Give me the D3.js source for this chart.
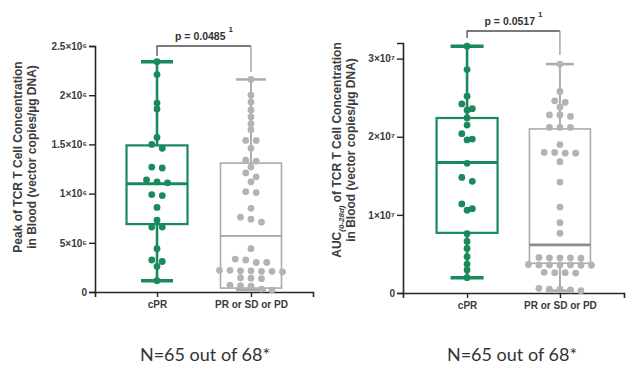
<!DOCTYPE html>
<html>
<head>
<meta charset="utf-8">
<script src="https://cdn.jsdelivr.net/npm/d3@7/dist/d3.min.js"></script>
<style>
  html, body { margin: 0; padding: 0; background: #fff; }
  svg { display: block; }
  .tick text { font-family: "Liberation Sans", Arial, sans-serif; font-weight: bold; }
</style>
</head>
<body>
<svg id="chart" width="628" height="368"></svg>
<script>
// Response groups
const categories = ["cPR", "PR or SD or PD"];

// Peak TCR T cell concentration (vector copies/µg DNA)
const peakCPR = [2.34e6, 2.21e6, 1.92e6, 1.86e6, 1.57e6, 1.50e6, 1.46e6, 1.27e6, 1.26e6, 1.14e6,
  1.12e6, 1.11e6, 0.99e6, 0.98e6, 0.86e6, 0.73e6, 0.66e6, 0.66e6, 0.44e6, 0.325e6, 0.31e6, 0.26e6, 0.115e6];
const peakOther = [2.16e6, 2.00e6, 1.93e6, 1.85e6, 1.78e6, 1.71e6, 1.65e6, 1.54e6, 1.54e6, 1.46e6,
  1.34e6, 1.33e6, 1.27e6, 1.21e6, 1.17e6, 1.12e6, 1.02e6, 1.01e6, 0.85e6, 0.76e6, 0.74e6, 0.71e6,
  0.44e6, 0.335e6, 0.325e6, 0.30e6, 0.30e6,
  0.22e6, 0.215e6, 0.215e6, 0.21e6, 0.21e6, 0.22e6, 0.205e6,
  0.145e6, 0.14e6, 0.135e6,
  0.07e6, 0.065e6, 0.06e6, 0.03e6, 0.02e6];
// [min, q1, median, q3, max]
const peakBoxCPR = [0.115e6, 0.69e6, 1.10e6, 1.49e6, 2.34e6];
const peakBoxOther = [0.02e6, 0.04e6, 0.57e6, 1.31e6, 2.16e6];

// AUC(0-28d) of TCR T cell concentration
const aucCPR = [3.16e7, 2.86e7, 2.52e7, 2.42e7, 2.36e7, 2.34e7, 2.24e7, 2.15e7, 2.04e7, 1.97e7,
  1.96e7, 1.66e7, 1.48e7, 1.43e7, 1.14e7, 1.08e7, 1.06e7, 0.76e7, 0.66e7, 0.57e7, 0.465e7, 0.37e7, 0.295e7, 0.196e7];
const aucOther = [2.93e7, 2.58e7, 2.46e7, 2.44e7, 2.38e7, 2.28e7, 2.28e7, 2.26e7, 2.12e7, 2.12e7,
  2.12e7, 1.90e7, 1.80e7, 1.80e7, 1.79e7, 1.79e7, 1.68e7, 1.42e7, 1.10e7, 0.90e7, 0.765e7,
  0.455e7, 0.45e7, 0.45e7, 0.45e7, 0.445e7,
  0.365e7, 0.36e7, 0.36e7, 0.36e7, 0.355e7, 0.36e7, 0.355e7,
  0.265e7, 0.26e7, 0.26e7, 0.255e7,
  0.06e7, 0.05e7, 0.05e7, 0.04e7, 0.03e7];
const aucBoxCPR = [0.196e7, 0.77e7, 1.67e7, 2.24e7, 3.16e7];
const aucBoxOther = [0.03e7, 0.38e7, 0.615e7, 2.10e7, 2.93e7];

// Axis ticks
const peakTicks = [0, 5e5, 1e6, 1.5e6, 2e6, 2.5e6];
const peakTickLabels = ["0", "5×10⁵", "1×10⁶", "1.5×10⁶", "2×10⁶", "2.5×10⁶"];
const aucTicks = [0, 1e7, 2e7, 3e7];
const aucTickLabels = ["0", "1×10⁷", "2×10⁷", "3×10⁷"];

// Statistics
const pPeak = "p = 0.0485";
const pAuc = "p = 0.0517";
const footnote = "N=65 out of 68*";

const GREEN = "#198a5c";
const GRAY = "#ababab";
const AXIS = "#262626";
const FONT = '"Liberation Sans", Arial, sans-serif';

const svg = d3.select("#chart");

// Group dots into rows of similar height and center each row on the category.
function swarm(values, y, cx, spacing, rowGap) {
  const sorted = values.slice().sort((a, b) => b - a);
  const rows = [];
  let cur = null;
  sorted.forEach(v => {
    const py = y(v);
    if (!cur || py - cur.start > rowGap) { cur = { start: py, items: [] }; rows.push(cur); }
    cur.items.push(v);
  });
  const out = [];
  rows.forEach(r => {
    const n = r.items.length;
    r.items.forEach((v, i) => out.push({ x: cx + (i - (n - 1) / 2) * spacing, y: y(v) }));
  });
  return out;
}

function panel(cfg) {
  const g = svg.append("g");
  const y = d3.scaleLinear().domain(cfg.domain).range([cfg.y0, cfg.y1]);
  const x = d3.scalePoint().domain(categories).range([cfg.xLeft, cfg.xRight]).padding(cfg.pad);

  // y axis
  const yAxis = d3.axisLeft(y).tickValues(cfg.ticks)
    .tickFormat((d, i) => cfg.tickLabels[i]).tickSizeOuter(0).tickSize(6).tickPadding(2);
  const ya = g.append("g").attr("transform", `translate(${cfg.xLeft},0)`).call(yAxis);
  ya.select(".domain").attr("stroke", AXIS).attr("stroke-width", 1.6);
  ya.selectAll(".tick line").attr("stroke", AXIS).attr("stroke-width", 1.4);
  ya.selectAll(".tick text").attr("fill", "#3a3a3a").attr("font-size", 10);

  // x axis
  const xAxis = d3.axisBottom(x).tickSizeOuter(0).tickSize(5).tickPadding(4);
  const xa = g.append("g").attr("transform", `translate(0,${cfg.y0})`).call(xAxis);
  xa.select(".domain").attr("stroke", AXIS).attr("stroke-width", 1.6);
  xa.selectAll(".tick line").attr("stroke", AXIS).attr("stroke-width", 1.4);
  xa.selectAll(".tick text").attr("fill", "#3a3a3a").attr("font-size", 10);

  // y axis title
  const title = g.append("text")
    .attr("transform", `translate(${cfg.titleX},${cfg.titleY}) rotate(-90)`)
    .attr("text-anchor", "middle").attr("font-family", FONT).attr("font-weight", "bold")
    .attr("font-size", 12).attr("fill", "#3d3d3d");
  cfg.title1(title.append("tspan").attr("x", 0).attr("dy", 0));
  title.append("tspan").attr("x", 0).attr("dy", 14).text("in Blood (vector copies/µg DNA)");

  // boxes and whiskers
  const groups = [
    { cat: categories[0], box: cfg.boxA, vals: cfg.valsA, color: GREEN, sw: 2.2, msw: 3, medColor: GREEN, cap: cfg.capA, capW: 3.5 },
    { cat: categories[1], box: cfg.boxB, vals: cfg.valsB, color: GRAY, sw: 1.6, msw: cfg.medB, medColor: cfg.medColorB, cap: cfg.capB, capW: 2.5 }
  ];
  groups.forEach(gr => {
    const cx = x(gr.cat);
    const half = 30.5;
    const [mn, q1, md, q3, mx] = gr.box;
    g.append("line").attr("x1", cx).attr("x2", cx).attr("y1", y(mx)).attr("y2", y(q3))
      .attr("stroke", gr.color).attr("stroke-width", gr.sw + 0.4);
    g.append("line").attr("x1", cx).attr("x2", cx).attr("y1", y(q1)).attr("y2", y(mn))
      .attr("stroke", gr.color).attr("stroke-width", gr.sw + 0.4);
    [mx, mn].forEach(v => g.append("line").attr("x1", cx - gr.cap / 2).attr("x2", cx + gr.cap / 2)
      .attr("y1", y(v)).attr("y2", y(v)).attr("stroke", gr.color).attr("stroke-width", gr.capW));
    g.append("rect").attr("x", cx - half).attr("width", half * 2)
      .attr("y", y(q3)).attr("height", y(q1) - y(q3))
      .attr("fill", "none").attr("stroke", gr.color).attr("stroke-width", gr.sw);
    g.append("line").attr("x1", cx - half).attr("x2", cx + half).attr("y1", y(md)).attr("y2", y(md))
      .attr("stroke", gr.medColor).attr("stroke-width", gr.msw);

    const pts = swarm(gr.vals, y, cx, 10.5, 5.5);
    g.append("g").selectAll("circle").data(pts).join("circle")
      .attr("cx", d => d.x).attr("cy", d => d.y).attr("r", 3.4)
      .attr("fill", gr.color === GREEN ? GREEN : "#b3b3b3");
  });

  // significance bracket
  const xa0 = x(categories[0]), xb0 = x(categories[1]);
  g.append("path")
    .attr("d", `M${xa0},${cfg.legA} V${cfg.brY} H${xb0}`)
    .attr("fill", "none").attr("stroke", "#4d4d4d").attr("stroke-width", 1.3);
  g.append("path")
    .attr("d", `M${xb0},${cfg.brY} V${cfg.legB}`)
    .attr("fill", "none").attr("stroke", "#9a9a9a").attr("stroke-width", 1.3);
  const pt = g.append("text").attr("x", (xa0 + xb0) / 2).attr("y", cfg.brY - 6)
    .attr("text-anchor", "middle").attr("font-family", FONT).attr("font-weight", "bold")
    .attr("font-size", 10.5).attr("fill", "#333");
  pt.append("tspan").text(cfg.p);
  pt.append("tspan").attr("dx", 3).attr("dy", -8).attr("font-size", 8).text("1");

  // footnote
  g.append("text").attr("x", cfg.noteX).attr("y", 361)
    .attr("text-anchor", "middle").attr("font-family", "Lato, 'Open Sans', sans-serif")
    .attr("font-size", 18).attr("fill", "#333").text(footnote);
}

panel({
  domain: [0, 2.5e6], y0: 292, y1: 46, xLeft: 95, xRight: 313, pad: 0.66,
  ticks: peakTicks, tickLabels: peakTickLabels,
  valsA: peakCPR, valsB: peakOther, boxA: peakBoxCPR, boxB: peakBoxOther,
  capA: 32, capB: 30, medB: 1.8, medColorB: "#a3a3a3",
  titleX: 22, titleY: 157,
  title1: t => t.text("Peak of TCR T Cell Concentration"),
  brY: 46, legA: 56, legB: 72, p: pPeak, noteX: 205
});

panel({
  domain: [0, 3.2e7], y0: 293, y1: 43, xLeft: 403, xRight: 624, pad: 0.69,
  ticks: aucTicks, tickLabels: aucTickLabels,
  valsA: aucCPR, valsB: aucOther, boxA: aucBoxCPR, boxB: aucBoxOther,
  capA: 33, capB: 28, medB: 2.8, medColorB: "#8c8c8c",
  titleX: 341, titleY: 150,
  title1: t => {
    t.append("tspan").text("AUC");
    t.append("tspan").attr("dy", 3).attr("font-size", 8).attr("font-style", "italic").text("(0-28d)");
    t.append("tspan").attr("dy", -3).text(" of TCR T Cell Concentration");
  },
  brY: 31, legA: 38, legB: 55, p: pAuc, noteX: 512
});
</script>
</body>
</html>
